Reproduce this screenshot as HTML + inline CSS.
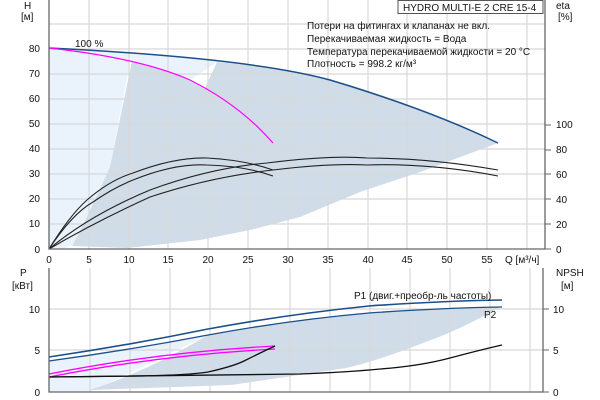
<!DOCTYPE html><html><head><style>body{margin:0;background:#fff}svg{display:block}text{font-family:"Liberation Sans",sans-serif;font-size:10px;fill:#111}</style></head><body>
<svg width="600" height="400" viewBox="0 0 600 400">
<path d="M49,48 Q250,58 330,80 L215,62 L49,48 Z" fill="#eaf3fc"/>
<path d="M49,48 Q140,58 190,80 L217,62 L100,52 Z" fill="#eaf3fc"/>
<path d="M49,48 L100,53 L130,62 L110,167 L87,217 L72,245 L63,249 L49,249 Z" fill="#eaf3fc"/>
<path d="M132,61 Q165,70 190,80 L205,88 L217,62 Q260,66 300,73 Q330,80 350,85 Q430,110 498,143 L420,172 L360,192 L300,217 L250,230 L200,240 L127,248 L72,246 L87,217 L110,167 Z" fill="#d0dce8"/>
<g stroke="#d8d8d8" stroke-width="1.2">
<path d="M49,24H545M49,49H545M49,74H545M49,99H545M49,124H545M49,149H545M49,174H545M49,199H545M49,224H545"/>
<path d="M89,0V249M129,0V249M168,0V249M208,0V249M248,0V249M288,0V249M328,0V249M368,0V249M407,0V249M447,0V249M487,0V249M527,0V249"/>
</g>
<path d="M49,48 Q250,58 330,80 Q430,110 498,143" fill="none" stroke="#1a4f8a" stroke-width="1.5"/>
<path d="M49,48 Q140,58 190,80 Q240,105 273,143" fill="none" stroke="#f0f" stroke-width="1.2"/>
<g fill="none" stroke="#222" stroke-width="1.1">
<path d="M49,249 Q70,215 87,200 Q110,180 133,173 Q175,157 207,158 Q245,160 273,170"/>
<path d="M49,249 Q72,214 93,202 Q113,188 133,180 Q175,163 207,165 Q245,166 273,176"/>
<path d="M49,249 Q90,215 150,190 Q210,168 267,163 Q330,155 367,158 Q430,158 498,170"/>
<path d="M49,249 Q95,222 150,197 Q210,177 273,170 Q330,163 367,165 Q430,163 498,176"/>
</g>
<path d="M49,0V249H545V0" fill="none" stroke="#666" stroke-width="1.3"/>
<g stroke="#666"><path d="M545,125h6M545,150h6M545,174h6M545,199h6M545,224h6M545,249h6"/></g>
<rect x="398" y="0.5" width="145" height="13" fill="#fff" stroke="#555"/>
<text x="403" y="11">HYDRO MULTI-E 2 CRE 15-4</text>
<text x="307" y="29">Потери на фитингах и клапанах не вкл.</text>
<text x="307" y="42">Перекачиваемая жидкость = Вода</text>
<text x="307" y="55">Температура перекачиваемой жидкости = 20 °C</text>
<text x="307" y="67">Плотность = 998.2 кг/м³</text>
<text x="75" y="47">100 %</text>
<text x="24" y="9">H</text><text x="21" y="20">[м]</text>
<text x="556" y="9">eta</text><text x="558" y="20">[%]</text>
<g text-anchor="end"><text x="40" y="52">80</text><text x="40" y="77">70</text><text x="40" y="102">60</text><text x="40" y="127">50</text><text x="40" y="152">40</text><text x="40" y="177">30</text><text x="40" y="202">20</text><text x="40" y="227">10</text><text x="40" y="253">0</text></g>
<g><text x="556" y="128">100</text><text x="556" y="153">80</text><text x="556" y="178">60</text><text x="556" y="203">40</text><text x="556" y="228">20</text><text x="556" y="253">0</text></g>
<g text-anchor="middle"><text x="49" y="263">0</text><text x="89" y="263">5</text><text x="129" y="263">10</text><text x="168" y="263">15</text><text x="208" y="263">20</text><text x="248" y="263">25</text><text x="288" y="263">30</text><text x="328" y="263">35</text><text x="368" y="263">40</text><text x="407" y="263">45</text><text x="447" y="263">50</text><text x="487" y="263">55</text></g>
<text x="505" y="263">Q [м³/ч]</text>
<path d="M49,360 Q130,349 208,335 L90,392 L49,392Z" fill="#eaf3fc"/>
<path d="M208,335 Q290,320 369,313 Q440,308 502,307 L500,307 Q460,330 423,343 Q380,360 346,368 L231,385 L90,390 Q150,370 208,335 Z" fill="#d0dce8"/>
<g stroke="#d8d8d8" stroke-width="1.2">
<path d="M49,309H543M49,350H543"/>
<path d="M90,268V392M130,268V392M170,268V392M210,268V392M250,268V392M290,268V392M330,268V392M370,268V392M410,268V392M450,268V392M490,268V392M530,268V392"/>
</g>
<path d="M49,357 Q130,345 208,329 Q290,314 369,306 Q440,301 502,300" fill="none" stroke="#1a4f8a" stroke-width="1.6"/>
<path d="M49,361 Q130,350 208,335 Q290,320 369,313 Q440,308 502,307" fill="none" stroke="#1a4f8a" stroke-width="1.3"/>
<path d="M49,374 Q160,352 275,346 M49,377 Q160,355 275,349" fill="none" stroke="#f0f" stroke-width="1.3"/>
<g fill="none" stroke="#111" stroke-width="1.3">
<path d="M49,377 L140,376 Q190,375 208,372 Q235,366 246,360 Q262,352 275,346"/>
<path d="M49,377 L300,374 Q350,372 380,369 Q420,366 450,358 Q480,350 502,345"/>
</g>
<path d="M49,268V392H543V268" fill="none" stroke="#666" stroke-width="1.3"/>
<g stroke="#666"><path d="M543,309h6M543,350h6M543,392h6"/></g>
<text x="354" y="299">P1 (двиг.+преобр-ль частоты)</text>
<text x="484" y="318">P2</text>
<text x="20" y="276">P</text><text x="12" y="289">[кВт]</text>
<text x="556" y="276">NPSH</text><text x="561" y="289">[м]</text>
<g text-anchor="end"><text x="40" y="313">10</text><text x="40" y="354">5</text><text x="40" y="396">0</text></g>
<g><text x="553" y="313">10</text><text x="553" y="354">5</text><text x="553" y="396">0</text></g>
</svg></body></html>
